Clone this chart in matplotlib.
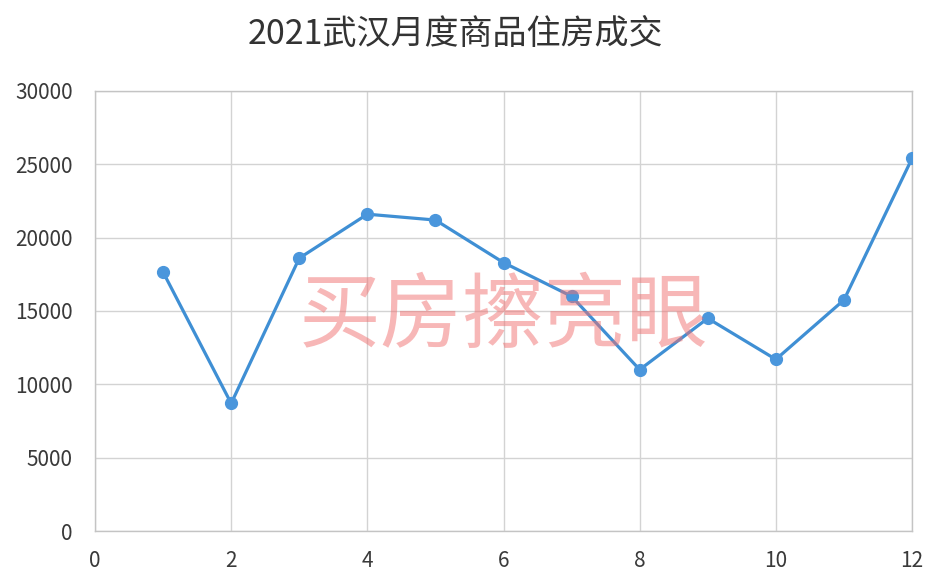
import matplotlib
matplotlib.use("Agg")
import matplotlib.pyplot as plt

plt.rcParams['font.family'] = ['Noto Sans CJK SC', 'DejaVu Sans']

months = [1, 2, 3, 4, 5, 6, 7, 8, 9, 10, 11, 12]
volumes = [17650, 8700, 18600, 21600, 21200, 18300, 16000, 11000, 14500, 11700, 15750, 25400]
title = "2021武汉月度商品住房成交"
watermark = "买房擦亮眼"
x_ticks = [0, 2, 4, 6, 8, 10, 12]
y_ticks = [0, 5000, 10000, 15000, 20000, 25000, 30000]

fig = plt.figure(figsize=(9.52, 5.78), dpi=100)
ax = fig.add_axes([0.0998, 0.0813, 0.958 - 0.0998, 0.8426 - 0.0813])

ax.plot(months, volumes, color='#3f8fd4', linewidth=2.3, marker='o',
        markersize=8.5, markerfacecolor='#4a96dc', markeredgecolor='#4a96dc', zorder=3)

ax.set_xlim(0, 12)
ax.set_ylim(0, 30000)
ax.set_xticks(x_ticks)
ax.set_yticks(y_ticks)
ax.grid(True, color='#d3d3d3', linewidth=1)
ax.tick_params(length=0, labelsize=15, colors='#3a3a3a')
ax.tick_params(axis='y', pad=16)
ax.tick_params(axis='x', pad=14)
for lab in ax.get_xticklabels() + ax.get_yticklabels():
    lab.set_fontweight('light')
for s in ax.spines.values():
    s.set_color('#c4c4c4')
    s.set_linewidth(1)

fig.text(0.478, 0.941, title, ha='center', va='center', fontsize=24.5,
         color='#333333', fontweight='light')

ax.text(0.5, 0.485, watermark, transform=ax.transAxes, ha='center', va='center',
        fontsize=59, fontweight='medium', color='#f07070', alpha=0.5, zorder=5)

fig.savefig('out.png', dpi=100, facecolor='white')
